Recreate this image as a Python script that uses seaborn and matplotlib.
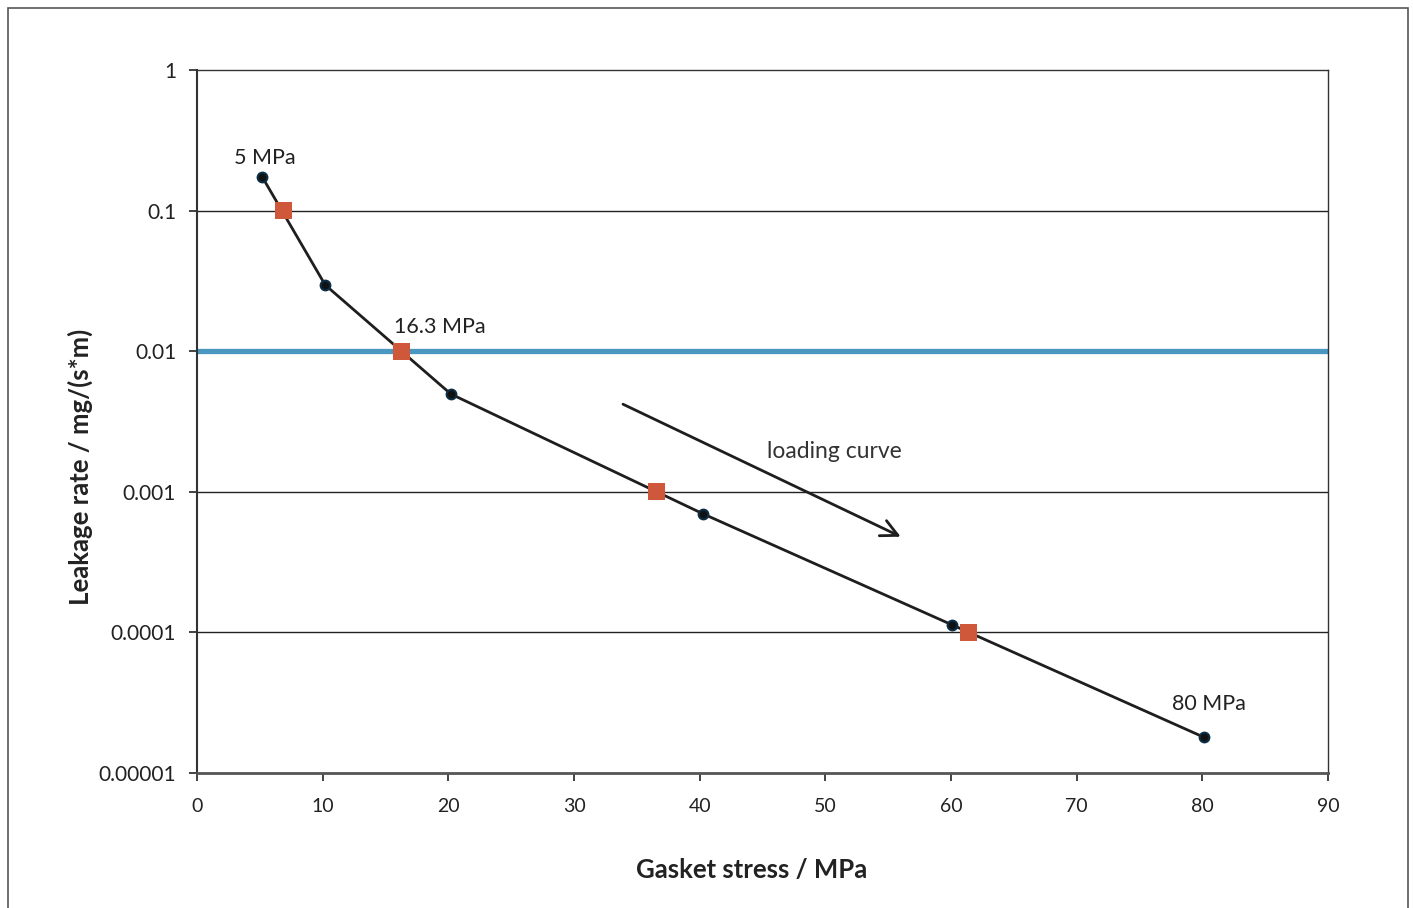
import matplotlib.pyplot as plt
import numpy as np
import seaborn as sns
import pandas as pd
from matplotlib.patches import Rectangle

sns.set_style("white")
plt.rcParams['font.family'] = ['Lato', 'DejaVu Sans']

# measured loading curve
stress = [5.2, 10.2, 20.2, 40.3, 60.1, 80.1]
leakage = [0.173, 0.0296, 0.00496, 0.000695, 0.000113, 0.0000180]

# interpolated tightness class points
class_stress = [6.9, 16.3, 36.6, 61.4]
class_leak = [0.1, 0.01, 0.001, 0.0001]

limit_leak = 0.01

yticks = [1, 0.1, 0.01, 0.001, 0.0001, 0.00001]
ytick_labels = ["1", "0.1", "0.01", "0.001", "0.0001", "0.00001"]
xticks = [0, 10, 20, 30, 40, 50, 60, 70, 80, 90]

curve = pd.DataFrame({"stress": stress, "leak": leakage})
classes = pd.DataFrame({"stress": class_stress, "leak": class_leak})

fig = plt.figure(figsize=(14.13, 9.08), dpi=100)
ax = fig.add_axes([197 / 1413, 1 - 773 / 908, (1328 - 197) / 1413, (773 - 70) / 908])

# outer frame
fig.patches.append(Rectangle((8 / 1413, -0.02), 1400 / 1413, 1 - 8 / 908 + 0.02,
                             transform=fig.transFigure, fill=False,
                             edgecolor='#555555', linewidth=1.2))

ax.set_yscale('log')
ax.set_xlim(0, 90)
ax.set_ylim(0.00001, 1)

for v in [0.1, 0.001, 0.0001]:
    ax.axhline(v, color='#222222', linewidth=1.0, zorder=1)
ax.axhline(limit_leak, color='#4a98c2', linewidth=3.8, zorder=2)

sns.lineplot(data=curve, x="stress", y="leak", ax=ax, color='#1e1e1e', linewidth=2.0,
             marker='o', markersize=7, markerfacecolor='#111111',
             markeredgecolor='#0b2d45', markeredgewidth=1.5, zorder=3)
sns.scatterplot(data=classes, x="stress", y="leak", ax=ax, marker='s', s=150,
                color='#d0583a', edgecolor='none', zorder=4)

ax.annotate("", xy=(56.2, 0.000470), xytext=(33.7, 0.00428),
            arrowprops=dict(arrowstyle='->', color='#1e1e1e', lw=2.0,
                            mutation_scale=30), zorder=3)

ax.text(50.7, 0.00195, "loading curve", fontsize=16.5, color='#333333',
        ha='center', va='center')
ax.text(5.4, 0.237, "5 MPa", fontsize=15.5, color='#222222', ha='center', va='center')
ax.text(19.3, 0.0149, "16.3 MPa", fontsize=15.5, color='#222222', ha='center', va='center')
ax.text(80.5, 0.000031, "80 MPa", fontsize=15.5, color='#222222', ha='center', va='center')

ax.set_xticks(xticks)
ax.set_xticklabels([str(t) for t in xticks])
ax.set_yticks(yticks)
ax.set_yticklabels(ytick_labels)
ax.minorticks_off()
ax.tick_params(axis='both', colors='#222222', length=6, width=1.2,
               direction='out', left=True, bottom=True, pad=8)
ax.tick_params(axis='x', labelsize=14, pad=12)
ax.tick_params(axis='y', labelsize=15, pad=9)

for s in ax.spines.values():
    s.set_color('#333333')
    s.set_linewidth(1.0)
ax.spines['left'].set_linewidth(1.5)
ax.spines['bottom'].set_linewidth(2.0)
ax.spines['bottom'].set_color('#555555')

ax.set_xlabel("Gasket stress / MPa", fontsize=18.5, fontweight='bold', color='#222222')
ax.set_ylabel("Leakage rate / mg/(s*m)", fontsize=18.5, fontweight='bold', color='#222222')
ax.xaxis.set_label_coords(0.49, -0.138)
ax.yaxis.set_label_coords(-0.1034, 0.435)
ax.xaxis.label.set_va('center')
ax.yaxis.label.set_va('center')
ax.grid(False)

fig.savefig('out.png', dpi=100)
